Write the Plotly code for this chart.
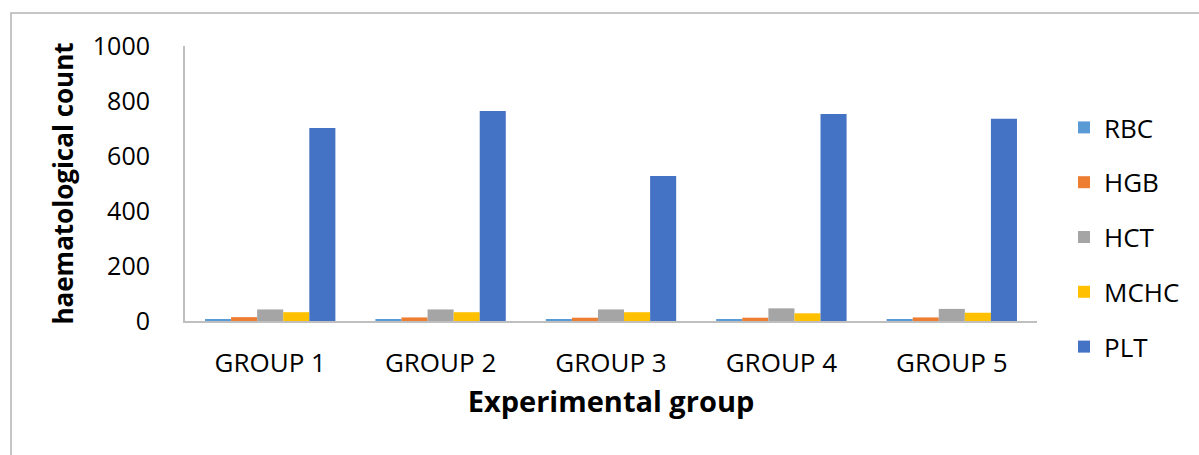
import plotly.graph_objects as go

groups = ["GROUP 1", "GROUP 2", "GROUP 3", "GROUP 4", "GROUP 5"]
rbc = [7, 7, 6, 6, 6]
hgb = [14, 13, 12, 12, 13]
hct = [42, 42, 42, 46, 44]
mchc = [32, 32, 32, 28, 30]
plt_vals = [702, 764, 527, 753, 735]

series = [
    ("RBC", rbc, "#5B9BD5"),
    ("HGB", hgb, "#ED7D31"),
    ("HCT", hct, "#A5A5A5"),
    ("MCHC", mchc, "#FFC000"),
    ("PLT", plt_vals, "#4472C4"),
]

FONT = "Open Sans, Calibri, Carlito, sans-serif"

fig = go.Figure()
for name, vals, color in series:
    fig.add_trace(go.Bar(
        x=groups, y=vals, name=name, legendgroup=name,
        marker=dict(color=color, line=dict(width=0)),
    ))

W, H = 1199, 455
L, R, T, B = 185, 1199 - 1037, 46, 455 - 321
pw = W - L - R
ph = H - T - B

def px_to_paper_x(px):
    return (px - L) / pw

def px_to_paper_y(py):
    return (H - B - py) / ph

fig.update_layout(
    width=W, height=H,
    margin=dict(l=L, r=R, t=T, b=B),
    paper_bgcolor="white", plot_bgcolor="white",
    barmode="group", bargap=0.235, bargroupgap=0,
    font=dict(family=FONT, size=26, color="#000000"),
    showlegend=True,
    legend=dict(
        x=px_to_paper_x(1064), y=px_to_paper_y(104), xanchor="left", yanchor="top",
        font=dict(family=FONT, size=26, color="#000000"),
        traceorder="grouped", tracegroupgap=18,
        bgcolor="rgba(0,0,0,0)",
    ),
    xaxis=dict(
        showline=True, linecolor="#BFBFBF", linewidth=2,
        showgrid=False, ticks="", tickfont=dict(family=FONT, size=26),
        ticklabelstandoff=18,
        title=dict(text="<b>Experimental group</b>", font=dict(family=FONT, size=29), standoff=12),
    ),
    yaxis=dict(
        range=[0, 1000], tickvals=[0, 200, 400, 600, 800, 1000],
        showline=True, linecolor="#BFBFBF", linewidth=2,
        showgrid=False, zeroline=False, ticks="",
        tickfont=dict(family=FONT, size=25),
        ticklabelstandoff=28,
        title=dict(text="<b>haematological count</b>", font=dict(family=FONT, size=26), standoff=12),
    ),
    shapes=[dict(
        type="rect", xref="paper", yref="paper",
        x0=px_to_paper_x(11), x1=px_to_paper_x(1210),
        y0=px_to_paper_y(470), y1=px_to_paper_y(13),
        line=dict(color="#B4B4B4", width=1.5), fillcolor="rgba(0,0,0,0)",
        layer="below",
    )],
)

fig.write_html("out.html", config={"displayModeBar": False},
               post_script="document.body.style.margin='0';")
